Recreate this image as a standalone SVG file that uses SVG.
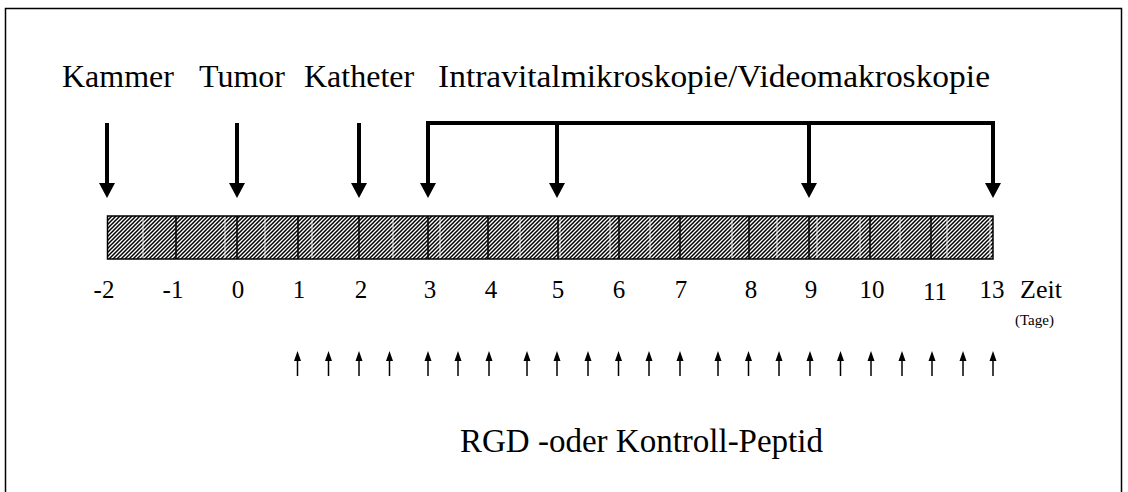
<svg xmlns="http://www.w3.org/2000/svg" width="1128" height="492" viewBox="0 0 1128 492">
<style>
text{font-family:"Liberation Serif","Times New Roman",serif;fill:#000}
.lbl{font-size:32px}
.num{font-size:25px;text-anchor:middle}
.dn{stroke:#000;stroke-width:4;fill:none}
.up{stroke:#000;stroke-width:1.5}
.div{stroke:#000;stroke-width:1.5}
.wl{stroke:#fff;stroke-width:1;opacity:0.85}
</style>
<defs>
<pattern id="hatch" patternUnits="userSpaceOnUse" width="4" height="4">
<rect width="4" height="4" fill="#fff"/>
<path d="M-1,5 L5,-1 M-3,3 L3,-3 M1,7 L7,1" stroke="#000" stroke-width="1.5"/>
</pattern>
</defs>
<rect x="5.5" y="8.5" width="1116" height="500" fill="none" stroke="#000" stroke-width="1.5"/>

<g id="labels-top">
<text class="lbl" x="62" y="87">Kammer</text>
<text class="lbl" x="199" y="87">Tumor</text>
<text class="lbl" x="304" y="87">Katheter</text>
<text class="lbl" x="438" y="87" textLength="552" lengthAdjust="spacingAndGlyphs">Intravitalmikroskopie/Videomakroskopie</text>
</g>

<g id="timeline-bar">
<rect x="107.5" y="216" width="885.5" height="43" fill="url(#hatch)" stroke="#000" stroke-width="1.5"/>
<g>
<line class="wl" x1="143" y1="217" x2="143" y2="258"/>
<line class="wl" x1="225" y1="217" x2="225" y2="258"/>
<line class="wl" x1="265" y1="217" x2="265" y2="258"/>
<line class="wl" x1="312" y1="217" x2="312" y2="258"/>
<line class="wl" x1="393" y1="217" x2="393" y2="258"/>
<line class="wl" x1="440" y1="217" x2="440" y2="258"/>
<line class="wl" x1="520" y1="217" x2="520" y2="258"/>
<line class="wl" x1="560" y1="217" x2="560" y2="258"/>
<line class="wl" x1="610" y1="217" x2="610" y2="258"/>
<line class="wl" x1="650" y1="217" x2="650" y2="258"/>
<line class="wl" x1="732" y1="217" x2="732" y2="258"/>
<line class="wl" x1="777" y1="217" x2="777" y2="258"/>
<line class="wl" x1="817" y1="217" x2="817" y2="258"/>
<line class="wl" x1="860" y1="217" x2="860" y2="258"/>
<line class="wl" x1="900" y1="217" x2="900" y2="258"/>
<line class="wl" x1="947" y1="217" x2="947" y2="258"/>
<line class="wl" x1="990" y1="217" x2="990" y2="258"/>
</g>
<g>
<line class="div" x1="176" y1="216" x2="176" y2="259"/>
<line class="div" x1="237" y1="216" x2="237" y2="259"/>
<line class="div" x1="298" y1="216" x2="298" y2="259"/>
<line class="div" x1="359" y1="216" x2="359" y2="259"/>
<line class="div" x1="428" y1="216" x2="428" y2="259"/>
<line class="div" x1="488" y1="216" x2="488" y2="259"/>
<line class="div" x1="558" y1="216" x2="558" y2="259"/>
<line class="div" x1="619" y1="216" x2="619" y2="259"/>
<line class="div" x1="680" y1="216" x2="680" y2="259"/>
<line class="div" x1="749" y1="216" x2="749" y2="259"/>
<line class="div" x1="809" y1="216" x2="809" y2="259"/>
<line class="div" x1="870" y1="216" x2="870" y2="259"/>
<line class="div" x1="931" y1="216" x2="931" y2="259"/>
</g>
</g>

<g id="axis-labels">
<text class="num" x="104" y="298">-2</text>
<text class="num" x="173" y="298">-1</text>
<text class="num" x="238" y="298">0</text>
<text class="num" x="299" y="298">1</text>
<text class="num" x="361" y="298">2</text>
<text class="num" x="430" y="298">3</text>
<text class="num" x="491" y="298">4</text>
<text class="num" x="558" y="298">5</text>
<text class="num" x="619" y="298">6</text>
<text class="num" x="681" y="298">7</text>
<text class="num" x="751" y="298">8</text>
<text class="num" x="811" y="298">9</text>
<text class="num" x="872" y="298">10</text>
<text class="num" x="935" y="300">11</text>
<text class="num" x="992" y="298">13</text>
<text x="1020" y="298" style="font-size:26px">Zeit</text>
<text x="1015" y="325" style="font-size:15px">(Tage)</text>
</g>

<g id="connectors">
<line class="dn" x1="107" y1="123" x2="107" y2="185"/>
<line class="dn" x1="237" y1="123" x2="237" y2="185"/>
<line class="dn" x1="359" y1="123" x2="359" y2="185"/>
<polyline class="dn" points="428,185 428,123 993,123 993,185"/>
<line class="dn" x1="557" y1="123" x2="557" y2="185"/>
<line class="dn" x1="809" y1="123" x2="809" y2="185"/>
<path d="M99,183 L115,183 L107,198 z M229,183 L245,183 L237,198 z M351,183 L367,183 L359,198 z M420,183 L436,183 L428,198 z M549,183 L565,183 L557,198 z M801,183 L817,183 L809,198 z M985,183 L1001,183 L993,198 z"/>
</g>

<g id="peptide-arrows">
<g class="up">
<line x1="297.5" y1="360" x2="297.5" y2="376"/>
<line x1="328.5" y1="360" x2="328.5" y2="376"/>
<line x1="359" y1="360" x2="359" y2="376"/>
<line x1="389.5" y1="360" x2="389.5" y2="376"/>
<line x1="428" y1="360" x2="428" y2="376"/>
<line x1="458" y1="360" x2="458" y2="376"/>
<line x1="489" y1="360" x2="489" y2="376"/>
<line x1="527" y1="360" x2="527" y2="376"/>
<line x1="557" y1="360" x2="557" y2="376"/>
<line x1="588" y1="360" x2="588" y2="376"/>
<line x1="618.5" y1="360" x2="618.5" y2="376"/>
<line x1="649" y1="360" x2="649" y2="376"/>
<line x1="680" y1="360" x2="680" y2="376"/>
<line x1="718" y1="360" x2="718" y2="376"/>
<line x1="748.5" y1="360" x2="748.5" y2="376"/>
<line x1="779" y1="360" x2="779" y2="376"/>
<line x1="810" y1="360" x2="810" y2="376"/>
<line x1="840.5" y1="360" x2="840.5" y2="376"/>
<line x1="871" y1="360" x2="871" y2="376"/>
<line x1="902" y1="360" x2="902" y2="376"/>
<line x1="932" y1="360" x2="932" y2="376"/>
<line x1="963" y1="360" x2="963" y2="376"/>
<line x1="993" y1="360" x2="993" y2="376"/>
</g>
<path d="M294,361 L301,361 L297.5,351 z M325,361 L332,361 L328.5,351 z M355.5,361 L362.5,361 L359,351 z M386,361 L393,361 L389.5,351 z M424.5,361 L431.5,361 L428,351 z M454.5,361 L461.5,361 L458,351 z M485.5,361 L492.5,361 L489,351 z M523.5,361 L530.5,361 L527,351 z M553.5,361 L560.5,361 L557,351 z M584.5,361 L591.5,361 L588,351 z M615,361 L622,361 L618.5,351 z M645.5,361 L652.5,361 L649,351 z M676.5,361 L683.5,361 L680,351 z M714.5,361 L721.5,361 L718,351 z M745,361 L752,361 L748.5,351 z M775.5,361 L782.5,361 L779,351 z M806.5,361 L813.5,361 L810,351 z M837,361 L844,361 L840.5,351 z M867.5,361 L874.5,361 L871,351 z M898.5,361 L905.5,361 L902,351 z M928.5,361 L935.5,361 L932,351 z M959.5,361 L966.5,361 L963,351 z M989.5,361 L996.5,361 L993,351 z"/>
</g>

<g id="peptide-label">
<text class="lbl" x="460" y="452" style="font-size:33px">RGD -oder Kontroll-Peptid</text>
</g>
</svg>
